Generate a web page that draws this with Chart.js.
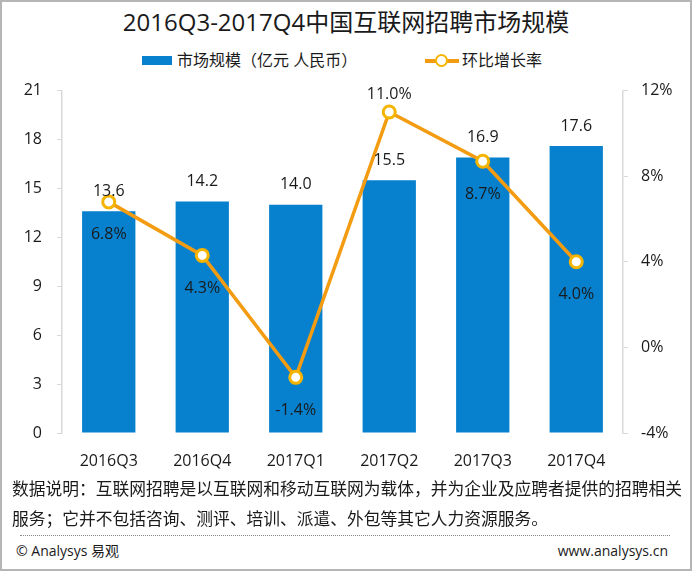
<!DOCTYPE html>
<html>
<head>
<meta charset="utf-8">
<script src="https://cdn.jsdelivr.net/npm/chart.js@4.4.1/dist/chart.umd.min.js"></script>
<style>
  body { margin: 0; background: #fff; }
  #wrap { position: relative; width: 692px; height: 571px; overflow: hidden; background: #fff;
          font-family: 'Open Sans', 'Noto Sans CJK SC', sans-serif; color: #1a1a1a; }
  #frame { position: absolute; left: 0; top: 0; width: 692px; height: 571px; box-sizing: border-box;
           border: 2px solid #b5b5b5; pointer-events: none; }
  #title { position: absolute; left: 0; width: 692px; top: 6px; text-align: center; font-size: 24px; line-height: 32px; }
  .leg { position: absolute; top: 48px; font-size: 16px; line-height: 24px; }
  #legBar { position: absolute; left: 142px; top: 56px; width: 30px; height: 9px; background: #0780CE; }
  #legLine { position: absolute; left: 425px; top: 59px; width: 34px; height: 4px; background: #F39C12; }
  #legDot { position: absolute; left: 435px; top: 54px; width: 9px; height: 9px; border-radius: 50%;
            background: #fff; border: 2.5px solid #F5B400; }
  #chart { position: absolute; left: 0; top: 66px; }
  .note { position: absolute; left: 12px; font-size: 16.75px; line-height: 24px; white-space: nowrap; }
  #dots { position: absolute; left: 20px; width: 650px; top: 535px; border-top: 1px dotted #888; }
  .foot { position: absolute; top: 541px; font-size: 14px; line-height: 20px; }
</style>
</head>
<body>
<div id="wrap">
  <div id="title">2016Q3-2017Q4中国互联网招聘市场规模</div>
  <div id="legBar"></div>
  <div class="leg" style="left:177px">市场规模（亿元 人民币）</div>
  <div id="legLine"></div>
  <div id="legDot"></div>
  <div class="leg" style="left:462px">环比增长率</div>
  <canvas id="chart" width="692" height="414"></canvas>
  <div class="note" style="top:477px">数据说明：互联网招聘是以互联网和移动互联网为载体，并为企业及应聘者提供的招聘相关</div>
  <div class="note" style="top:507px">服务；它并不包括咨询、测评、培训、派遣、外包等其它人力资源服务。</div>
  <div id="dots"></div>
  <div class="foot" style="left:16px">© Analysys 易观</div>
  <div class="foot" style="right:24px">www.analysys.cn</div>
  <div id="frame"></div>
</div>
<script>
const quarters = ['2016Q3', '2016Q4', '2017Q1', '2017Q2', '2017Q3', '2017Q4'];
const marketSize = [13.6, 14.2, 14.0, 15.5, 16.9, 17.6];   // 亿元
const growthRate = [6.8, 4.3, -1.4, 11.0, 8.7, 4.0];       // %
const sizeTicks = [0, 3, 6, 9, 12, 15, 18, 21];
const rateTicks = [-4, 0, 4, 8, 12];

// where the % label sits relative to its point
const rateLabelPos = ['below', 'below', 'below', 'above', 'below', 'below'];

const BAR_BLUE = '#0780CE';
const LINE_ORANGE = '#F39C12';
const DOT_YELLOW = '#F5B400';
const FONT = "'Open Sans', 'Noto Sans CJK SC', sans-serif";

const valueLabels = {
  id: 'valueLabels',
  afterDatasetsDraw(chart) {
    const ctx = chart.ctx;
    ctx.save();
    ctx.font = '16px ' + FONT;
    ctx.fillStyle = '#1a1a1a';
    ctx.textAlign = 'center';
    ctx.textBaseline = 'middle';
    chart.getDatasetMeta(1).data.forEach((bar, i) => {
      ctx.fillText(marketSize[i].toFixed(1), bar.x, bar.y - 20);
    });
    chart.getDatasetMeta(0).data.forEach((pt, i) => {
      const dy = rateLabelPos[i] == 'above' ? -18 : 33;
      ctx.fillText(growthRate[i].toFixed(1) + '%', pt.x, pt.y + dy);
    });
    ctx.restore();
  }
};

new Chart(document.getElementById('chart'), {
  data: {
    labels: quarters,
    datasets: [
      {
        type: 'line',
        label: '环比增长率',
        data: growthRate,
        yAxisID: 'y1',
        borderColor: LINE_ORANGE,
        borderWidth: 3.5,
        pointRadius: 6,
        pointBorderWidth: 3,
        pointBackgroundColor: '#fff',
        pointBorderColor: DOT_YELLOW,
        tension: 0,
        order: 0,
      },
      {
        type: 'bar',
        label: '市场规模（亿元 人民币）',
        data: marketSize,
        yAxisID: 'y',
        backgroundColor: BAR_BLUE,
        categoryPercentage: 1,
        barPercentage: 0.57,
        order: 1,
      },
    ]
  },
  options: {
    responsive: false,
    animation: false,
    layout: { padding: { top: 15, left: 0, right: 0, bottom: 0 } },
    plugins: {
      legend: { display: false },
      title: { display: false },
      tooltip: { enabled: false },
    },
    scales: {
      x: {
        grid: { display: false, drawTicks: false },
        border: { display: false },
        ticks: { color: '#1a1a1a', font: { size: 16, family: FONT }, padding: 19 },
        afterFit: s => { s.height = 47; },
      },
      y: {
        position: 'left',
        min: 0, max: 21,
        afterBuildTicks: s => { s.ticks = sizeTicks.map(v => ({ value: v })); },
        grid: { drawOnChartArea: false, drawTicks: true, tickLength: 5, color: '#d9d9d9' },
        border: { display: true, color: '#d9d9d9', width: 1.5 },
        ticks: { color: '#1a1a1a', font: { size: 16, family: FONT }, padding: 15 },
        afterFit: s => { s.width = 62; },
      },
      y1: {
        position: 'right',
        min: -4, max: 12,
        afterBuildTicks: s => { s.ticks = rateTicks.map(v => ({ value: v })); },
        grid: { drawOnChartArea: false, drawTicks: true, tickLength: 5, color: '#d9d9d9' },
        border: { display: true, color: '#d9d9d9', width: 1.5 },
        ticks: {
          color: '#1a1a1a', font: { size: 16, family: FONT }, padding: 13,
          callback: v => v + '%',
        },
        afterFit: s => { s.width = 69; },
      },
    }
  },
  plugins: [valueLabels]
});
</script>
</body>
</html>
